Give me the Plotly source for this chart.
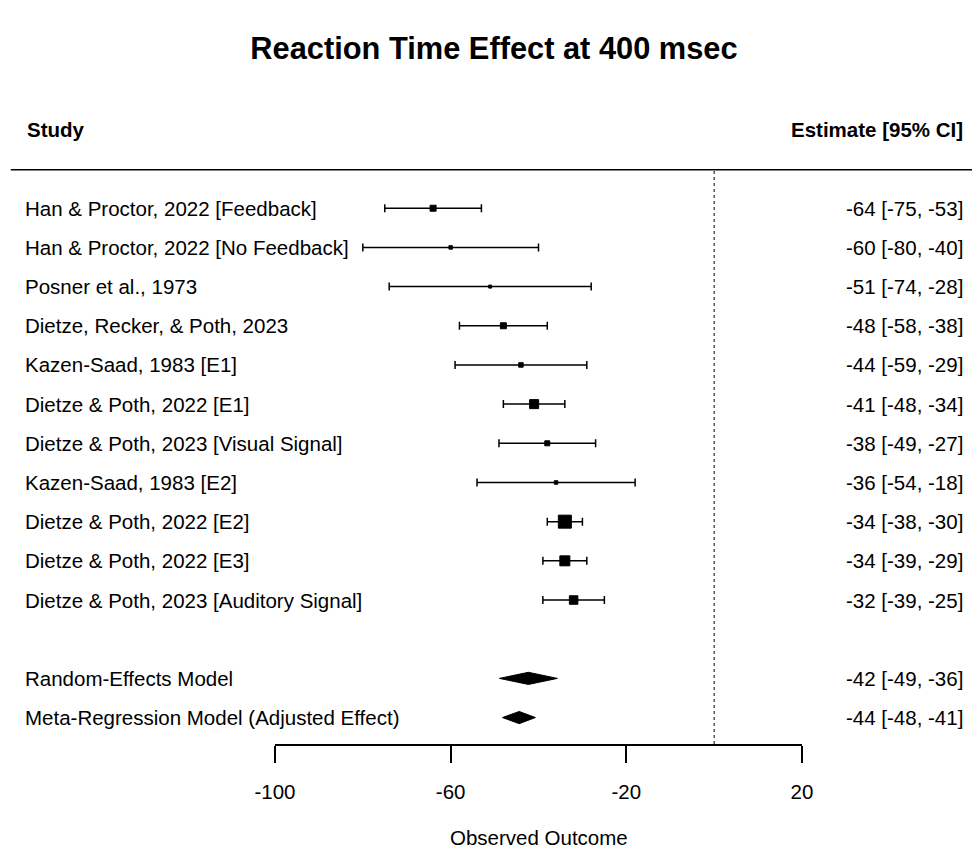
import plotly.graph_objects as go

# ---------------- data ----------------
studies = [
    "Han & Proctor, 2022 [Feedback]",
    "Han & Proctor, 2022 [No Feedback]",
    "Posner et al., 1973",
    "Dietze, Recker, & Poth, 2023",
    "Kazen-Saad, 1983 [E1]",
    "Dietze & Poth, 2022 [E1]",
    "Dietze & Poth, 2023 [Visual Signal]",
    "Kazen-Saad, 1983 [E2]",
    "Dietze & Poth, 2022 [E2]",
    "Dietze & Poth, 2022 [E3]",
    "Dietze & Poth, 2023 [Auditory Signal]",
]
estimates = [-64, -60, -51, -48, -44, -41, -38, -36, -34, -34, -32]
ci_low = [-75, -80, -74, -58, -59, -48, -49, -54, -38, -39, -39]
ci_high = [-53, -40, -28, -38, -29, -34, -27, -18, -30, -29, -25]
weights = [7, 4.5, 4, 7, 5.5, 10, 6, 4.5, 14, 11, 9.5]  # square side ~ study weight

summary_labels = ["Random-Effects Model", "Meta-Regression Model (Adjusted Effect)"]
summary_est = [-42.3, -44.4]
summary_low = [-48.9, -48.2]
summary_high = [-35.7, -40.7]

x_ticks = [-100, -60, -20, 20]

# ---------------- layout constants ----------------
FONT = "Liberation Sans, Arial, sans-serif"
W, H = 972, 848
ML, MR, MT, MB = 274.5, 170, 99, 104.3
plot_w = W - ML - MR
plot_h = H - MT - MB
ROW_TOP = -1.788
ROW_BOT = 14.675
TXT = 20.5

def px_to_paper_x(px):
    return (px - ML) / plot_w

study_rows = list(range(1, len(studies) + 1))
summary_rows = [len(studies) + 2, len(studies) + 3]

fig = go.Figure()

# study estimates with CIs
fig.add_trace(go.Scatter(
    x=estimates, y=study_rows, mode="markers",
    marker=dict(symbol="square", size=[w - 1 for w in weights], color="black", opacity=1,
                line=dict(width=1, color="black")),
    error_x=dict(type="data", symmetric=False,
                 array=[h - e for h, e in zip(ci_high, estimates)],
                 arrayminus=[e - l for e, l in zip(estimates, ci_low)],
                 color="black", thickness=1.5, width=4),
    showlegend=False, hoverinfo="skip", cliponaxis=False,
))

# summary diamonds
half_h = 0.155
for est, lo, hi, row in zip(summary_est, summary_low, summary_high, summary_rows):
    fig.add_trace(go.Scatter(
        x=[lo, est, hi, est, lo], y=[row, row - half_h, row, row + half_h, row],
        mode="lines", fill="toself", fillcolor="black",
        line=dict(color="black", width=1), showlegend=False, hoverinfo="skip",
    ))

# reference line at 0
fig.add_shape(type="line", xref="x", yref="y", x0=0, x1=0, y0=0.05, y1=ROW_BOT,
              line=dict(color="black", width=1, dash="dot"))
# header separator line
fig.add_shape(type="line", xref="paper", yref="y",
              x0=px_to_paper_x(10), x1=px_to_paper_x(975), y0=0.02, y1=0.02,
              line=dict(color="black", width=1.5))

annotations = []
# headers
annotations.append(dict(text="<b>Study</b>", xref="paper", yref="y",
                        x=px_to_paper_x(24), y=-1, xanchor="left", yanchor="middle",
                        showarrow=False, font=dict(size=TXT, family=FONT, color="black")))
annotations.append(dict(text="<b>Estimate [95% CI]</b>", xref="paper", yref="y",
                        x=px_to_paper_x(965), y=-1, xanchor="right", yanchor="middle",
                        showarrow=False, font=dict(size=TXT, family=FONT, color="black")))

labels = studies + summary_labels
rows = study_rows + summary_rows
ests = estimates + summary_est
lows = ci_low + summary_low
highs = ci_high + summary_high
for lab, r, e, lo, hi in zip(labels, rows, ests, lows, highs):
    annotations.append(dict(text=lab, xref="paper", yref="y",
                            x=px_to_paper_x(22), y=r, xanchor="left", yanchor="middle",
                            showarrow=False, font=dict(size=TXT, family=FONT, color="black")))
    annotations.append(dict(text=f"{round(e):d} [{round(lo):d}, {round(hi):d}]",
                            xref="paper", yref="y",
                            x=px_to_paper_x(965), y=r, xanchor="right", yanchor="middle",
                            showarrow=False, font=dict(size=TXT, family=FONT, color="black")))

# x axis title
annotations.append(dict(text="Observed Outcome", xref="paper", yref="paper",
                        x=0.5, y=-(837 - (H - MB)) / plot_h,
                        xanchor="center", yanchor="middle", showarrow=False,
                        font=dict(size=TXT, family=FONT, color="black")))

fig.update_layout(
    width=W, height=H,
    margin=dict(l=ML, r=MR, t=MT, b=MB, autoexpand=False),
    paper_bgcolor="white", plot_bgcolor="white",
    title=dict(text="<b>Reaction Time Effect at 400 msec</b>", x=494 / W, xref="container",
               y=1 - 48 / H, yref="container", xanchor="center", yanchor="middle",
               font=dict(size=30.8, family=FONT, color="black")),
    xaxis=dict(range=[-100, 20], tickvals=x_ticks, ticktext=[str(v) for v in x_ticks],
               ticks="outside", ticklen=17, tickwidth=1.5, tickcolor="black",
               ticklabelstandoff=12,
               showline=True, linecolor="black", linewidth=1.5,
               showgrid=False, zeroline=False,
               tickfont=dict(size=TXT, family=FONT, color="black"),
               fixedrange=True),
    yaxis=dict(range=[ROW_BOT, ROW_TOP], visible=False, showgrid=False, zeroline=False,
               fixedrange=True),
    annotations=annotations,
    font=dict(family=FONT),
)

fig.write_html("out.html")
